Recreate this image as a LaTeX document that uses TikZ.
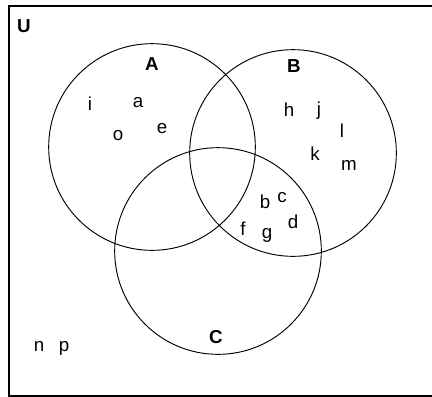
\documentclass[tikz,border=0pt]{standalone}
\usepackage{fontspec}
\setmainfont{Liberation Sans}
\usepackage{tikz}
\usetikzlibrary{positioning}

\begin{document}
\begin{tikzpicture}[
    x=0.03cm, y=-0.03cm,
    setcircle/.style={
        circle,
        draw,
        line width=0.8pt,
        minimum size=6.2cm,
        inner sep=0pt
    },
    setname/.style={anchor=base, font=\fontsize{16}{19}\selectfont\bfseries, inner sep=0pt},
    elem/.style={anchor=base, font=\fontsize{16}{19}\selectfont, inner sep=0pt}
]

% ============================================================
% MARCO
% ============================================================
\useasboundingbox (0,0) rectangle (432,396);
\node[draw, line width=1.3pt, minimum width=14cm, minimum height=11.7cm,
      anchor=north west, inner sep=0pt] (univ) at (8,5) {};
\node[setname] (u) at (24,33) {U};

% ============================================================
% CONJUNTOS
% ============================================================
\node[setcircle] (setA) at (152,147) {};
\node[setcircle] (setB) at (293,153) {};
\node[setcircle] (setC) at (218,251) {};

\node[setname] (labA) at (152,70)  {A};
\node[setname] (labB) at (294,72)  {B};
\node[setname] (labC) at (216,343) {C};

% ============================================================
% ELEMENTOS
% ============================================================

% Solo A
\node[elem] (ei) at (90,110)  {i};
\node[elem] (ea) at (138,107) {a};
\node[elem] (ee) at (162,133) {e};
\node[elem] (eo) at (118,140) {o};

% Solo B
\node[elem] (eh) at (289,116) {h};
\node[elem] (ej) at (319,115) {j};
\node[elem] (el) at (342,137) {l};
\node[elem] (ek) at (315,160) {k};
\node[elem] (em) at (349,170) {m};

% B y C
\node[elem] (eb) at (265,208) {b};
\node[elem] (ec) at (282,202) {c};
\node[elem] (ed) at (293,228) {d};
\node[elem] (ef) at (243,235) {f};
\node[elem] (eg) at (267,238) {g};

% Fuera
\node[elem] (en) at (39,351) {n};
\node[elem] (ep) at (64,351) {p};

\end{tikzpicture}
\end{document}
